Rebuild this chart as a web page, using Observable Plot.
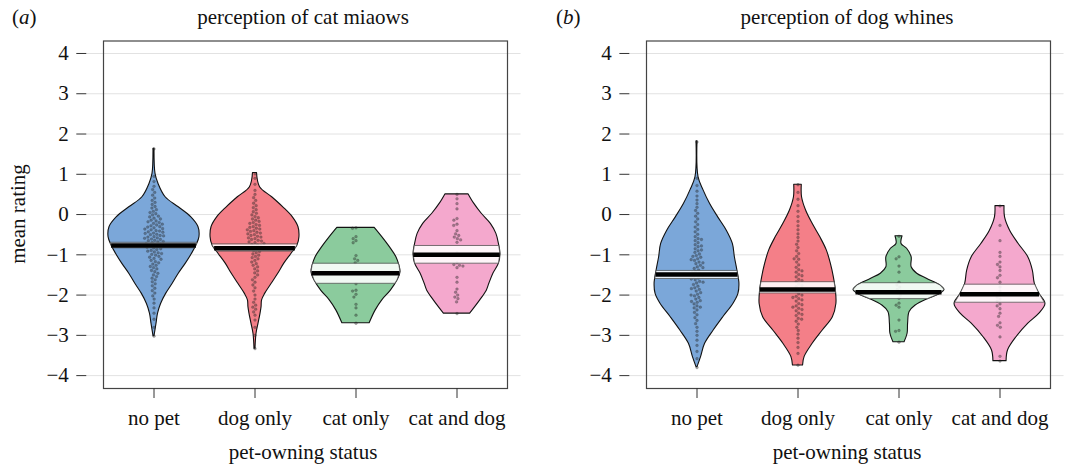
<!DOCTYPE html>
<html><head><meta charset="utf-8">
<script src="https://cdn.jsdelivr.net/npm/d3@7"></script>
<script src="https://cdn.jsdelivr.net/npm/@observablehq/plot@0.6"></script>
<style>
body{margin:0;background:#fff;}
#wrap{position:relative;width:1066px;height:466px;overflow:hidden;font-family:"Liberation Serif","Times New Roman",serif;color:#111;}
.t{position:absolute;font-size:21px;line-height:1;white-space:nowrap;}
</style></head><body>
<div id="wrap"></div>
<script>
// ---------- data ----------
const cats = ["no pet", "dog only", "cat only", "cat and dog"];
const fillColors = ["#7BA7D9", "#F47F88", "#8BCB9D", "#F4A8CD"];
const yTicks = [-4, -3, -2, -1, 0, 1, 2, 3, 4];
const panelTitles = ["perception of cat miaows", "perception of dog whines"];
const panelTags = ["a", "b"];
const xLabel = "pet-owning status";
const yLabel = "mean rating";

// violin density profiles: [rating, relative half-width]
const violinMiaowNoPet = [[1.63,0.01],[1.01,0.03],[0.76,0.09],[0.43,0.23],[0.18,0.49],[-0.07,0.74],[-0.31,0.88],[-0.56,0.90],[-0.77,0.84],[-0.98,0.75],[-1.22,0.63],[-1.47,0.49],[-1.72,0.37],[-1.97,0.24],[-2.22,0.14],[-2.46,0.08],[-2.71,0.05],[-3.02,0.01]];
const violinMiaowDog = [[1.03,0.04],[0.68,0.10],[0.43,0.34],[0.18,0.56],[-0.07,0.75],[-0.31,0.86],[-0.56,0.88],[-0.77,0.84],[-0.98,0.72],[-1.22,0.58],[-1.47,0.46],[-1.72,0.33],[-1.97,0.20],[-2.13,0.14],[-2.30,0.13],[-2.46,0.11],[-2.71,0.07],[-2.96,0.03],[-3.33,0.01]];
const violinMiaowCat = [[-0.33,0.37],[-0.56,0.52],[-0.81,0.67],[-1.06,0.80],[-1.27,0.86],[-1.43,0.88],[-1.64,0.82],[-1.89,0.69],[-2.13,0.52],[-2.38,0.39],[-2.70,0.27]];
const violinMiaowBoth = [[0.50,0.23],[0.27,0.34],[0.02,0.49],[-0.23,0.67],[-0.48,0.78],[-0.73,0.83],[-0.98,0.86],[-1.22,0.83],[-1.47,0.72],[-1.72,0.64],[-1.89,0.59],[-2.13,0.46],[-2.46,0.26]];
const violinWhineNoPet = [[1.82,0.01],[0.93,0.03],[0.60,0.13],[0.26,0.26],[-0.07,0.42],[-0.40,0.59],[-0.73,0.71],[-1.06,0.75],[-1.39,0.80],[-1.72,0.84],[-1.97,0.82],[-2.22,0.72],[-2.55,0.52],[-2.88,0.33],[-3.21,0.16],[-3.54,0.08],[-3.79,0.01]];
const violinWhineDog = [[0.74,0.075],[0.43,0.08],[0.10,0.16],[-0.23,0.29],[-0.56,0.44],[-0.89,0.57],[-1.22,0.65],[-1.56,0.71],[-1.89,0.75],[-2.22,0.76],[-2.55,0.69],[-2.88,0.49],[-3.21,0.29],[-3.54,0.13],[-3.75,0.10]];
const violinWhineCat = [[-0.54,0.07],[-0.73,0.05],[-0.85,0.16],[-1.06,0.25],[-1.31,0.25],[-1.47,0.36],[-1.60,0.56],[-1.76,0.82],[-1.87,0.90],[-1.97,0.82],[-2.09,0.59],[-2.26,0.33],[-2.42,0.21],[-2.71,0.18],[-2.96,0.17],[-3.17,0.11]];
const violinWhineBoth = [[0.21,0.09],[-0.07,0.10],[-0.40,0.20],[-0.73,0.37],[-1.06,0.56],[-1.39,0.65],[-1.72,0.69],[-1.97,0.78],[-2.22,0.90],[-2.46,0.78],[-2.71,0.56],[-3.04,0.33],[-3.37,0.16],[-3.64,0.13]];

// individual participant ratings
const pointsMiaowNoPet = [1.63,0.95,0.82,0.7,0.62,0.55,0.48,0.41,0.35,0.3,0.25,0.2,0.16,0.12,0.08,0.05,0.02,-0.01,-0.04,-0.06,-0.09,-0.11,-0.14,-0.16,-0.18,-0.2,-0.22,-0.24,-0.26,-0.28,-0.3,-0.31,-0.33,-0.35,-0.36,-0.38,-0.4,-0.41,-0.43,-0.44,-0.46,-0.47,-0.49,-0.5,-0.52,-0.53,-0.55,-0.56,-0.58,-0.59,-0.61,-0.62,-0.64,-0.65,-0.67,-0.68,-0.7,-0.72,-0.73,-0.75,-0.77,-0.79,-0.81,-0.83,-0.85,-0.87,-0.89,-0.91,-0.93,-0.95,-0.97,-0.99,-1.01,-1.04,-1.06,-1.09,-1.11,-1.14,-1.17,-1.2,-1.23,-1.26,-1.29,-1.32,-1.35,-1.39,-1.42,-1.46,-1.5,-1.54,-1.58,-1.62,-1.67,-1.72,-1.77,-1.83,-1.89,-1.95,-2.02,-2.1,-2.2,-2.32,-2.45,-2.6,-2.8,-3.02];
const pointsMiaowDog = [1.01,0.9,0.75,0.6,0.5,0.42,0.35,0.28,0.22,0.17,0.12,0.07,0.03,-0.01,-0.05,-0.08,-0.11,-0.14,-0.17,-0.2,-0.22,-0.25,-0.27,-0.3,-0.32,-0.34,-0.36,-0.38,-0.4,-0.42,-0.44,-0.46,-0.48,-0.5,-0.52,-0.54,-0.56,-0.58,-0.6,-0.62,-0.64,-0.66,-0.68,-0.7,-0.72,-0.74,-0.76,-0.78,-0.8,-0.83,-0.86,-0.89,-0.92,-0.95,-0.98,-1.01,-1.04,-1.07,-1.1,-1.14,-1.18,-1.22,-1.26,-1.3,-1.35,-1.4,-1.45,-1.5,-1.56,-1.62,-1.68,-1.75,-1.82,-1.9,-2.0,-2.1,-2.18,-2.25,-2.3,-2.35,-2.42,-2.5,-2.62,-2.8,-3.0,-3.33];
const pointsMiaowCat = [-0.33,-0.34,-0.55,-0.6,-0.65,-0.7,-1.02,-1.1,-1.14,-1.2,-1.45,-1.72,-1.88,-1.9,-1.98,-2.05,-2.23,-2.32,-2.5,-2.7];
const pointsMiaowBoth = [0.5,0.39,0.27,0.14,-0.1,-0.14,-0.24,-0.27,-0.4,-0.48,-0.52,-0.56,-0.6,-0.63,-0.69,-0.95,-1.2,-1.24,-1.26,-1.28,-1.32,-1.56,-1.68,-1.85,-1.93,-2.0,-2.05,-2.09,-2.17,-2.46];
const pointsWhineNoPet = [1.8,0.9,0.72,0.58,0.46,0.36,0.27,0.18,0.1,0.03,-0.04,-0.11,-0.18,-0.25,-0.31,-0.37,-0.43,-0.49,-0.55,-0.6,-0.65,-0.7,-0.75,-0.8,-0.85,-0.9,-0.94,-0.98,-1.02,-1.06,-1.1,-1.14,-1.18,-1.22,-1.26,-1.3,-1.34,-1.38,-1.42,-1.46,-1.5,-1.54,-1.58,-1.62,-1.66,-1.7,-1.74,-1.78,-1.82,-1.86,-1.9,-1.94,-1.98,-2.02,-2.06,-2.1,-2.14,-2.18,-2.22,-2.27,-2.32,-2.37,-2.43,-2.49,-2.56,-2.63,-2.71,-2.8,-2.9,-3.0,-3.12,-3.25,-3.4,-3.58,-3.8,-0.62,-0.88,-1.12,-1.32,-1.52,-1.68,-1.84,-2.0,-2.16,-1.44,-1.04,-0.78,-2.3,-1.6,-1.2];
const pointsWhineDog = [0.74,0.55,0.38,0.22,0.08,-0.05,-0.17,-0.28,-0.38,-0.48,-0.57,-0.66,-0.74,-0.82,-0.9,-0.97,-1.04,-1.11,-1.18,-1.25,-1.31,-1.37,-1.43,-1.49,-1.55,-1.61,-1.67,-1.73,-1.79,-1.85,-1.91,-1.97,-2.03,-2.09,-2.15,-2.21,-2.27,-2.33,-2.39,-2.45,-2.51,-2.58,-2.65,-2.72,-2.8,-2.88,-2.97,-3.07,-3.18,-3.3,-3.45,-3.74,-1.4,-1.64,-1.88,-2.0,-2.12,-2.24,-2.36,-2.48,-1.76,-2.06,-2.3,-1.52,-2.6,-1.1];
const pointsWhineCat = [-0.54,-1.05,-1.1,-1.28,-1.43,-1.68,-1.75,-1.8,-1.86,-1.9,-1.95,-2.0,-2.08,-2.2,-2.25,-2.3,-2.62,-2.88,-2.9,-3.17];
const pointsWhineBoth = [0.21,-0.27,-0.65,-0.94,-1.04,-1.18,-1.24,-1.3,-1.39,-1.51,-1.57,-1.68,-1.8,-1.9,-1.95,-2.0,-2.05,-2.1,-2.15,-2.22,-2.27,-2.34,-2.45,-2.53,-2.69,-2.75,-2.8,-3.04,-3.52,-3.64];

// means and confidence bands (per category, in cats order)
const meanMiaow = [-0.77, -0.84, -1.46, -1.00];
const ciLowMiaow = [-0.84, -0.92, -1.72, -1.22];
const ciHighMiaow = [-0.71, -0.75, -1.23, -0.79];
const meanWhine = [-1.49, -1.86, -1.93, -1.98];
const ciLowWhine = [-1.60, -1.96, -2.10, -2.19];
const ciHighWhine = [-1.41, -1.69, -1.71, -1.75];

// ---------- build ----------
function widthAt(profile, y) {
  if (y >= profile[0][0]) return profile[0][1];
  for (let i = 1; i < profile.length; i++) {
    const [y0, w0] = profile[i - 1], [y1, w1] = profile[i];
    if (y <= y0 && y >= y1) return w0 + (w1 - w0) * (y0 - y) / (y0 - y1);
  }
  return profile[profile.length - 1][1];
}

const PAD_OUTER = 0.149, ALIGN = 0.55, ML = 84;

function panel(profiles, points, means, lows, highs, width, marginRight) {
  const frameW = width - ML - marginRight;
  const step = frameW / (cats.length + 2 * PAD_OUTER);
  const outer = frameW - step * cats.length;
  const leftU = outer * ALIGN / (step / 2), rightU = outer * (1 - ALIGN) / (step / 2);
  const violin = [], dots = [], band = [], meanRows = [], grid = [];
  cats.forEach((g, i) => {
    const p = profiles[i];
    p.forEach(([y, w]) => violin.push({g, y, w}));
    points[i].forEach(y => dots.push({g, y}));
    const ys = [highs[i], ...p.map(d => d[0]).filter(y => y < highs[i] && y > lows[i]), lows[i]];
    ys.forEach(y => band.push({g, y, w: widthAt(p, y)}));
    meanRows.push({g, y: means[i], w: widthAt(p, means[i])});
    yTicks.forEach(t => grid.push({g, y: t, a: i === 0 ? -1 - leftU : -1, b: i === cats.length - 1 ? 1 + rightU : 1}));
  });
  return Plot.plot({
    width, height: 466,
    marginLeft: ML, marginRight, marginTop: 40.5, marginBottom: 78,
    style: {fontFamily: "'Liberation Serif', 'Times New Roman', serif", fontSize: "21px", background: "transparent", color: "#111"},
    x: {domain: [-1, 1], axis: null},
    y: {domain: [-4.32, 4.31]},
    fx: {domain: cats, paddingInner: 0, paddingOuter: PAD_OUTER, align: ALIGN, label: null},
    color: {domain: cats, range: fillColors},
    marks: [
      Plot.ruleY(grid, {fx: "g", y: "y", x1: "a", x2: "b", stroke: "#e2e2e2", strokeWidth: 1}),
      Plot.areaX(violin, {fx: "g", y: "y", x1: d => -d.w, x2: d => d.w, z: "g", fill: "g", stroke: "#111", strokeWidth: 1.1, curve: "catmull-rom"}),
      Plot.dot(dots, Plot.dodgeX({anchor: "middle", padding: 0.7}, {fx: "g", y: "y", r: 1.4, fill: "#222", fillOpacity: 0.4, stroke: "#222", strokeOpacity: 0.3, strokeWidth: 0.5})),
      Plot.areaX(band, {fx: "g", y: "y", x1: d => -d.w, x2: d => d.w, z: "g", fill: "white", fillOpacity: 0.88, stroke: "#555", strokeWidth: 0.8}),
      Plot.ruleY(meanRows, {fx: "g", y: "y", x1: d => -d.w, x2: d => d.w, stroke: "#000", strokeWidth: 4.5}),
      Plot.frame({facet: "super", stroke: "#444", strokeWidth: 1.2}),
      Plot.axisY({ticks: yTicks, tickSize: 10, tickPadding: 8, label: null, stroke: "#333", dx: -outer * ALIGN}),
      Plot.axisFx({anchor: "bottom", tickSize: 10, tickPadding: 12, label: null, stroke: "#333"})
    ]
  });
}

const wrap = document.getElementById("wrap");
function place(el, left, top, extra) {
  el.style.position = "absolute"; el.style.left = left + "px"; el.style.top = top + "px";
  if (extra) Object.assign(el.style, extra);
  wrap.appendChild(el); return el;
}
const pa = panel([violinMiaowNoPet, violinMiaowDog, violinMiaowCat, violinMiaowBoth],
  [pointsMiaowNoPet, pointsMiaowDog, pointsMiaowCat, pointsMiaowBoth],
  meanMiaow, ciLowMiaow, ciHighMiaow, 533, 11);
const pb = panel([violinWhineNoPet, violinWhineDog, violinWhineCat, violinWhineBoth],
  [pointsWhineNoPet, pointsWhineDog, pointsWhineCat, pointsWhineBoth],
  meanWhine, ciLowWhine, ciHighWhine, 522, 2);
place(pa, 0, 0); place(pb, 544, 0);

const panelLeft = [0, 544];
panelLeft.forEach((L, k) => {
  const tag = document.createElement("div"); tag.className = "t";
  tag.innerHTML = "(<i>" + panelTags[k] + "</i>)";
  place(tag, L + 12, 7);
  const ti = document.createElement("div"); ti.className = "t"; ti.textContent = panelTitles[k];
  place(ti, L + 303, 7, {transform: "translateX(-50%)"});
  const xl = document.createElement("div"); xl.className = "t"; xl.textContent = xLabel;
  place(xl, L + 303, 442, {transform: "translateX(-50%)"});
});
const yl = document.createElement("div"); yl.className = "t"; yl.textContent = yLabel;
place(yl, 18, 214, {transform: "translate(-50%,-50%) rotate(-90deg)"});
</script>
</body></html>
